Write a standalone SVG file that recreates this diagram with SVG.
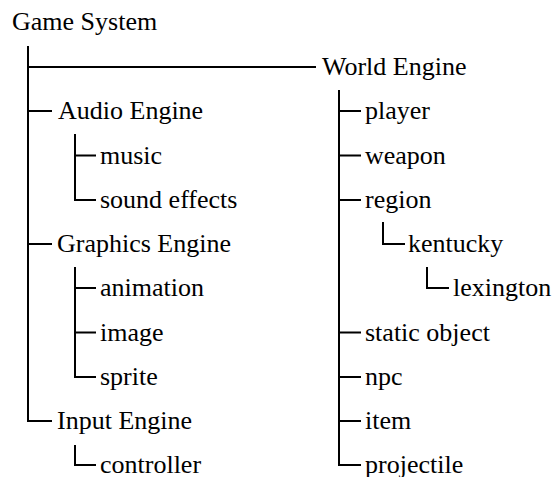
<svg xmlns="http://www.w3.org/2000/svg" width="555" height="477" viewBox="0 0 555 477">
<style>
.c{fill:none;stroke:#000;stroke-width:2}
.t{font-family:"Liberation Serif","Times New Roman",serif;font-size:26px;fill:#000}
</style>
<rect width="555" height="477" fill="#fff"/>
<g id="connectors">
<path class="c" d="M28,46V421H52"/>
<path class="c" d="M28,67H316"/>
<path class="c" d="M28,111H52"/>
<path class="c" d="M28,244H52"/>
<path class="c" d="M75,134V200H96M75,155.5H96"/>
<path class="c" d="M75,267V377H96M75,288H96M75,332.5H96"/>
<path class="c" d="M75,445V465H96"/>
<path class="c" d="M339,90V465H361M339,111H361M339,155.5H361M339,200H361M339,332.5H361M339,377H361M339,421H361"/>
<path class="c" d="M383,222V244H405"/>
<path class="c" d="M427,267V288H449"/>
</g>
<g id="game-system"><text class="t" x="12" y="30">Game System</text></g>
<g id="world-engine"><text class="t" x="322" y="75">World Engine</text></g>
<g id="audio-engine"><text class="t" x="58" y="119">Audio Engine</text></g>
<g id="music"><text class="t" x="100" y="163.5">music</text></g>
<g id="sound-effects"><text class="t" x="100" y="208">sound effects</text></g>
<g id="graphics-engine"><text class="t" x="57" y="252">Graphics Engine</text></g>
<g id="animation"><text class="t" x="100" y="296">animation</text></g>
<g id="image"><text class="t" x="100" y="340.5">image</text></g>
<g id="sprite"><text class="t" x="100" y="385">sprite</text></g>
<g id="input-engine"><text class="t" x="57" y="429">Input Engine</text></g>
<g id="controller"><text class="t" x="100" y="473">controller</text></g>
<g id="player"><text class="t" x="365" y="119">player</text></g>
<g id="weapon"><text class="t" x="365" y="163.5">weapon</text></g>
<g id="region"><text class="t" x="365" y="208">region</text></g>
<g id="kentucky"><text class="t" x="408" y="252">kentucky</text></g>
<g id="lexington"><text class="t" x="453" y="296">lexington</text></g>
<g id="static-object"><text class="t" x="365" y="340.5">static object</text></g>
<g id="npc"><text class="t" x="365" y="385">npc</text></g>
<g id="item"><text class="t" x="365" y="429">item</text></g>
<g id="projectile"><text class="t" x="365" y="473">projectile</text></g>
</svg>
